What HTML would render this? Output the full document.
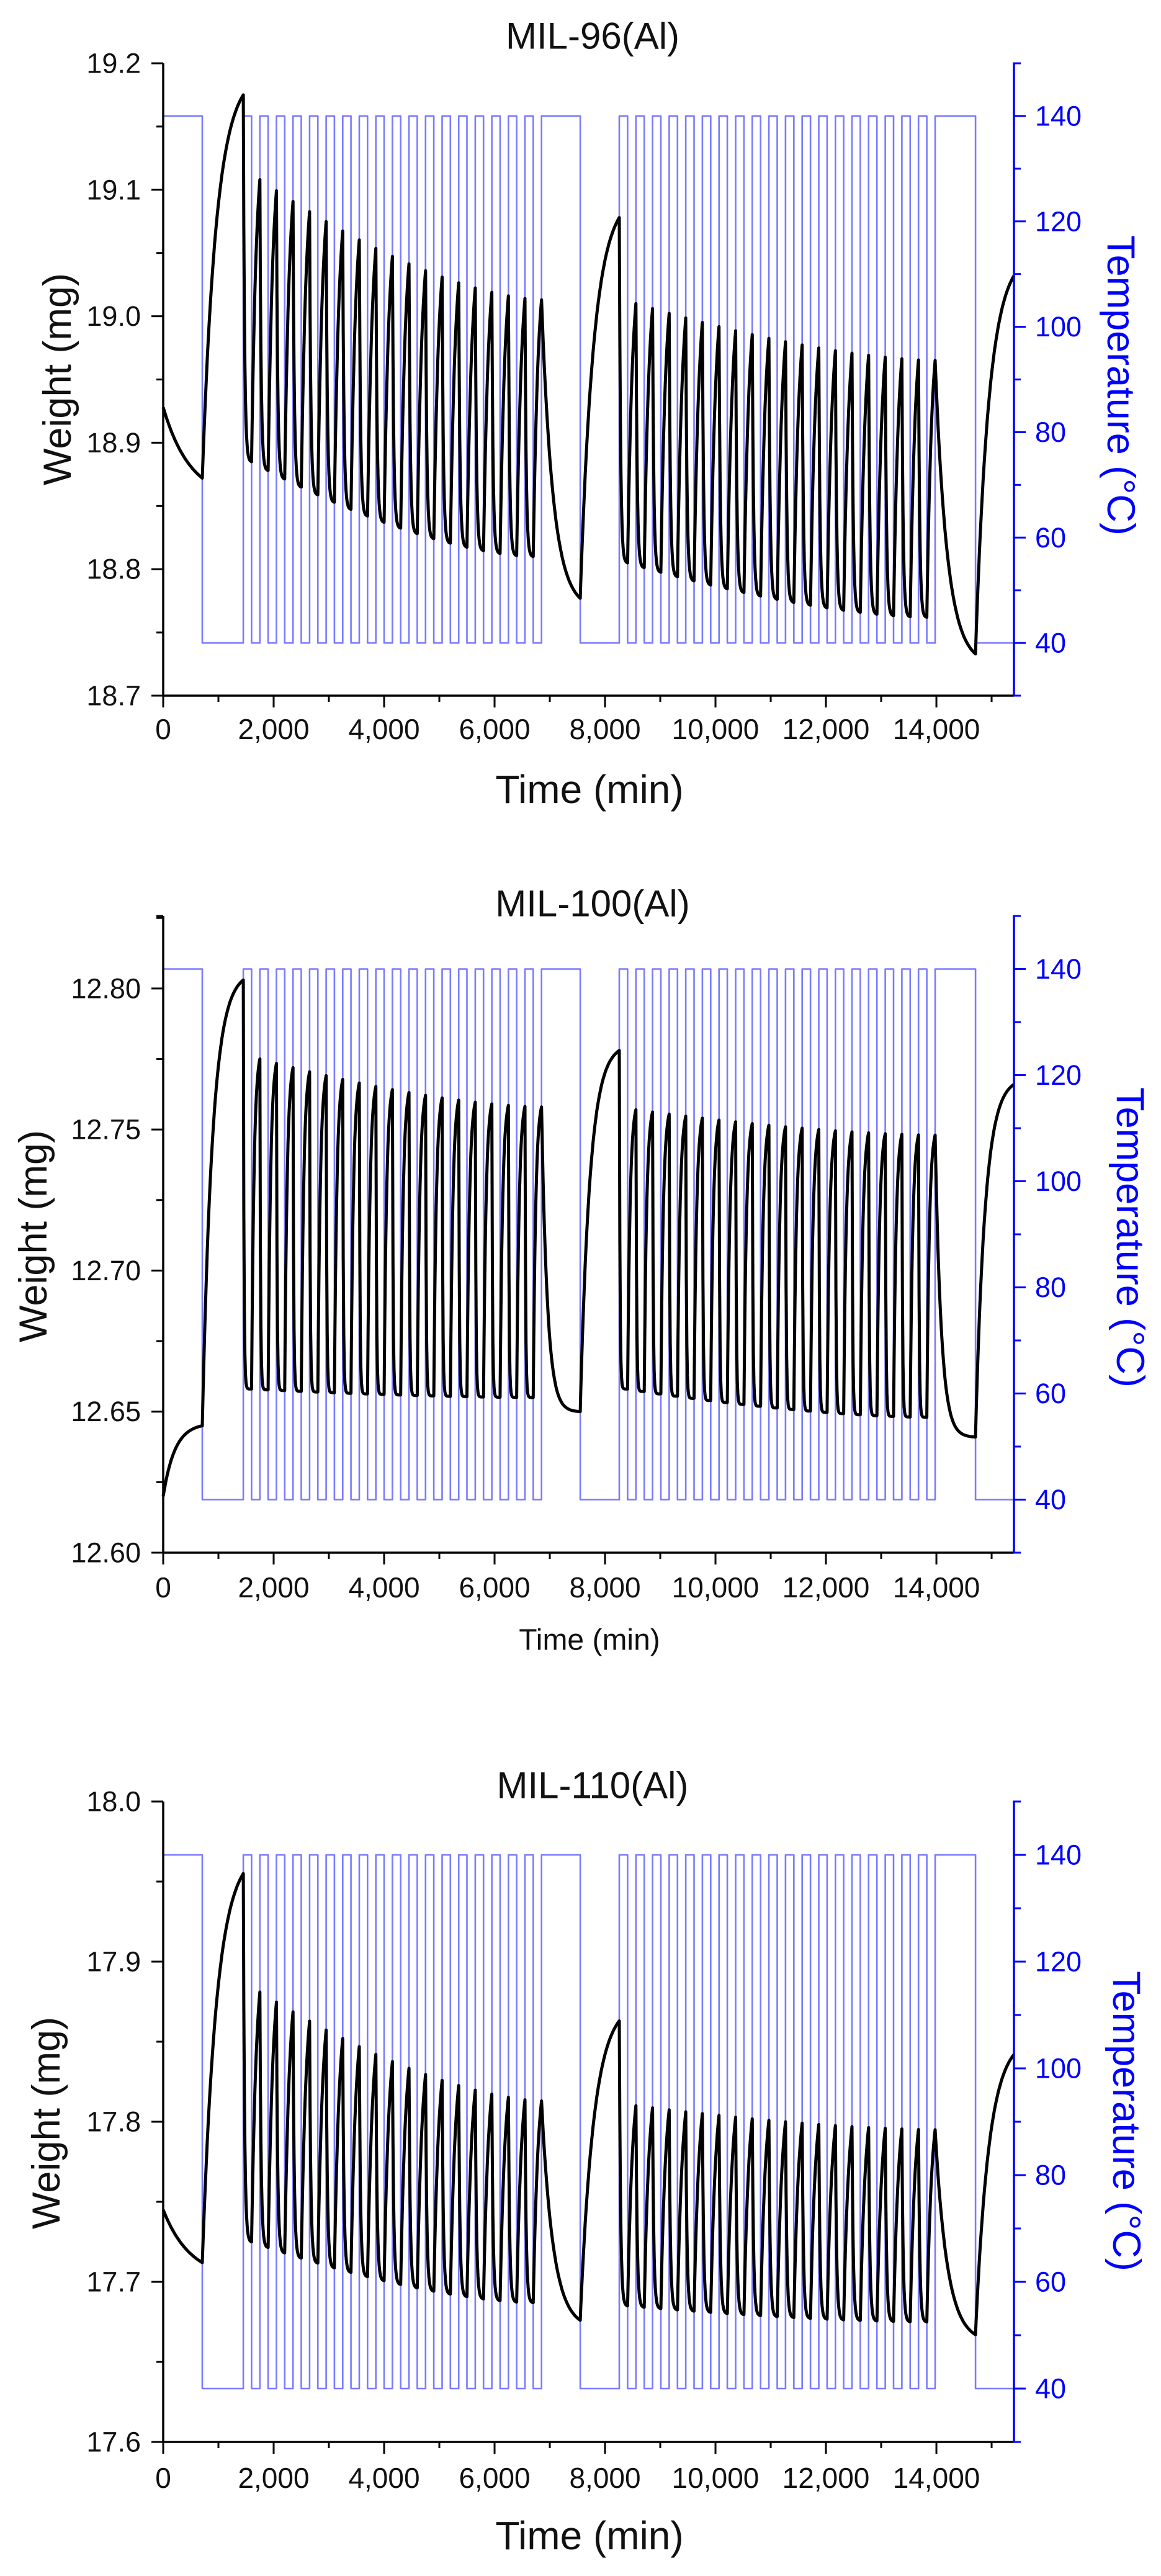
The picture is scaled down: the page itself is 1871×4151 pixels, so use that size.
<!DOCTYPE html>
<html><head><meta charset="utf-8">
<style>
html,body{margin:0;padding:0;background:#fff;}
svg{display:block;font-family:"Liberation Sans",Arial,sans-serif;}
</style></head>
<body>
<svg id="s" width="1871" height="4151" viewBox="0 0 1871 4151" xmlns="http://www.w3.org/2000/svg">
<rect width="1871" height="4151" fill="#fff"/>
<g id="g"></g>
</svg>
<script>
var NS="http://www.w3.org/2000/svg";
var G=document.getElementById('g');
function el(tag,attrs,txt){var e=document.createElementNS(NS,tag);for(var k in attrs)e.setAttribute(k,attrs[k]);if(txt!==undefined)e.textContent=txt;G.appendChild(e);return e;}
var L=263,R=1634,TMAX=15404;
function X(t){return L+(t-0)*(R-L)/TMAX;}
var charts=[
 {T:102,B:1121,wmin:18.7,wmax:19.2,wt:[18.7,18.8,18.9,19.0,19.1,19.2],wl:['18.7','18.8','18.9','19.0','19.1','19.2'],minor:0.05,
  title:'MIL-96(Al)',ty:58,tky:1175,xly:1272,xls:64,wx:93,wy:611,tx:1806,ty2:621,
  start:18.928,s0:[18.872,0.7],r1:[19.175,0.35],g1p:[19.108,19.013],g1t:[18.885,18.810],d1:[18.777,0.3],r2:[19.078,0.35],
  g2p:[19.010,18.965],g2t:[18.805,18.762],d2:[18.733,0.3],r3:[19.032,0.35],dt:0.15,rt:0.6},
 {T:1476,B:2502,wmin:12.60,wmax:12.8257,wt:[12.60,12.65,12.70,12.75,12.80],wl:['12.60','12.65','12.70','12.75','12.80'],minor:0.025,
  title:'MIL-100(Al)',ty:1456,tky:2558,xly:2643,xls:48,wx:54,wy:1992,tx:1821,ty2:1994,
  start:12.620,s0:[12.645,0.3],r1:[12.803,0.25],g1p:[12.775,12.758],g1t:[12.658,12.655],d1:[12.650,0.15],r2:[12.778,0.25],
  g2p:[12.757,12.748],g2t:[12.658,12.648],d2:[12.641,0.15],r3:[12.766,0.25],dt:0.08,rt:0.3},
 {T:2903,B:3935,wmin:17.6,wmax:18.0,wt:[17.6,17.7,17.8,17.9,18.0],wl:['17.6','17.7','17.8','17.9','18.0'],minor:0.05,
  title:'MIL-110(Al)',ty:2877,tky:3993,xly:4086,xls:64,wx:75,wy:3421,tx:1815,ty2:3418,
  start:17.745,s0:[17.712,0.7],r1:[17.955,0.35],g1p:[17.881,17.813],g1t:[17.725,17.687],d1:[17.676,0.3],r2:[17.863,0.35],
  g2p:[17.810,17.795],g2t:[17.685,17.675],d2:[17.667,0.3],r3:[17.842,0.35],dt:0.15,rt:0.6}
];
var xl=['0','2,000','4,000','6,000','8,000','10,000','12,000','14,000'];
var tl=['40','60','80','100','120','140'];
var phases=[];
phases.push([0,708,1]);phases.push([708,1450,0]);
var t=1450;for(var k=0;k<18;k++){phases.push([t,t+150,1]);phases.push([t+150,t+300,0]);t+=300;}
phases.push([t,7551,1]);phases.push([7551,8258,0]);
t=8258;for(k=0;k<19;k++){phases.push([t,t+150.5,1]);phases.push([t+150.5,t+301,0]);t+=301;}
phases.push([t,14708,1]);phases.push([14708,TMAX,0]);
function seq(a,b,n,i){return b+(a-b)*Math.pow(1-i/(n-1),1.6);}
charts.forEach(function(c){
 var T=c.T,B=c.B;
 function Y(w){return B-(w-c.wmin)*(B-T)/(c.wmax-c.wmin);}
 function YT(v){return B-(v-30)*(B-T)/120;}
 var d='M'+L+','+YT(140);
 phases.forEach(function(p){var y=YT(p[2]?140:40);d+=' L'+X(p[0]).toFixed(1)+','+y.toFixed(1)+' L'+X(p[1]).toFixed(1)+','+y.toFixed(1);});
 el('path',{d:d,fill:'none',stroke:'#7a7aff','stroke-width':2.6,'stroke-linejoin':'round'});
 var segs=[];
 segs.push([0,708,c.s0[0],c.s0[1]]);segs.push([708,1450,c.r1[0],c.r1[1]]);
 var i=2;
 for(k=0;k<18;k++){segs.push([phases[i][0],phases[i][1],seq(c.g1t[0],c.g1t[1],18,k),c.dt]);i++;
   segs.push([phases[i][0],phases[i][1],seq(c.g1p[0],c.g1p[1],18,k),c.rt]);i++;}
 segs.push([phases[i][0],phases[i][1],c.d1[0],c.d1[1]]);i++;
 segs.push([phases[i][0],phases[i][1],c.r2[0],c.r2[1]]);i++;
 for(k=0;k<19;k++){segs.push([phases[i][0],phases[i][1],seq(c.g2t[0],c.g2t[1],19,k),c.dt]);i++;
   segs.push([phases[i][0],phases[i][1],seq(c.g2p[0],c.g2p[1],19,k),c.rt]);i++;}
 segs.push([phases[i][0],phases[i][1],c.d2[0],c.d2[1]]);i++;
 segs.push([phases[i][0],phases[i][1],c.r3[0],c.r3[1]]);
 var y0=c.start;var wd='M'+X(0)+','+Y(y0).toFixed(1);
 segs.forEach(function(s){var N=Math.max(8,Math.round((s[1]-s[0])/10));var tau=s[3],e1=Math.exp(-1/tau);
   for(var j=1;j<=N;j++){var u=j/N;var f=(Math.exp(-u/tau)-e1)/(1-e1);var w=s[2]+(y0-s[2])*f;
     wd+=' L'+X(s[0]+u*(s[1]-s[0])).toFixed(1)+','+Y(w).toFixed(1);}
   y0=s[2];});
 el('path',{d:wd,fill:'none',stroke:'#000','stroke-width':5,'stroke-linejoin':'round'});
 el('line',{x1:L,y1:T,x2:L,y2:B+1.5,stroke:'#000','stroke-width':3.5});
 el('line',{x1:L-1.5,y1:B,x2:R,y2:B,stroke:'#000','stroke-width':3.5});
 el('line',{x1:R,y1:T-1.5,x2:R,y2:B+1.5,stroke:'#0000ff','stroke-width':3.5});
 for(var m=0;m<=15000;m+=1000){var mj=(m%2000==0);el('line',{x1:X(m),y1:B,x2:X(m),y2:B+(mj?19:10),stroke:'#000','stroke-width':3});}
 xl.forEach(function(s,j){el('text',{x:X(j*2000),y:c.tky,'font-size':46,'text-anchor':'middle','dominant-baseline':'central',fill:'#111'},s);});
 for(var w=c.wmin;w<=c.wmax+1e-6;w+=c.minor){var isMaj=c.wt.some(function(v){return Math.abs(v-w)<1e-6;});
   el('line',{x1:L-(isMaj?19:11),y1:Y(w),x2:L,y2:Y(w),stroke:'#000','stroke-width':3});}
 if(c.wmax-c.wt[c.wt.length-1]>1e-4) el('line',{x1:L-11,y1:T,x2:L,y2:T,stroke:'#000','stroke-width':3});
 c.wt.forEach(function(v,j){el('text',{x:L-36,y:Y(v),'font-size':45,'text-anchor':'end','dominant-baseline':'central',fill:'#111'},c.wl[j]);});
 for(var v=30;v<=150;v+=10){var mj2=(v%20==0)&&v>=40&&v<=140;el('line',{x1:R,y1:YT(v),x2:R+(mj2?19:11),y2:YT(v),stroke:'#0000ff','stroke-width':3});}
 tl.forEach(function(s,j){el('text',{x:R+34,y:YT(40+20*j),'font-size':45,'text-anchor':'start','dominant-baseline':'central',fill:'#0000ff'},s);});
 el('text',{x:955,y:c.ty,'font-size':60,'text-anchor':'middle','dominant-baseline':'central',fill:'#111'},c.title);
 el('text',{x:950,y:c.xly,'font-size':c.xls,'text-anchor':'middle','dominant-baseline':'central',fill:'#111'},'Time (min)');
 el('text',{x:c.wx,y:c.wy,'font-size':63,'text-anchor':'middle','dominant-baseline':'central',fill:'#111',transform:'rotate(-90 '+c.wx+' '+c.wy+')'},'Weight (mg)');
 el('text',{x:c.tx,y:c.ty2,'font-size':63,'text-anchor':'middle','dominant-baseline':'central',fill:'#0000ff',transform:'rotate(90 '+c.tx+' '+c.ty2+')'},'Temperature (°C)');
});
</script>
</body></html>
